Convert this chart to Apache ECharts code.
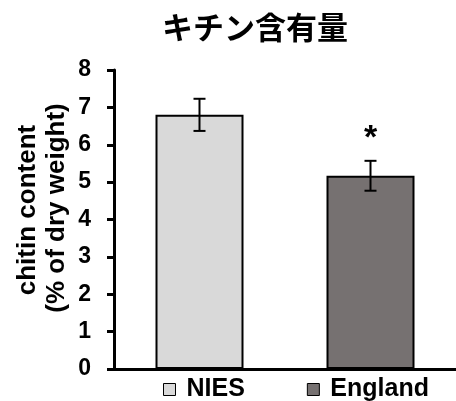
<!DOCTYPE html>
<html>
<head>
<meta charset="utf-8">
<script src="https://cdn.jsdelivr.net/npm/echarts@6/dist/echarts.min.js"></script>
<style>
  html, body { margin: 0; padding: 0; background: #fff; }
  #chart { width: 456px; height: 401px; }
</style>
</head>
<body>
<div id="chart"></div>
<script>
// Chitin content by strain, mean ± error
const categories = ['NIES', 'England'];
const means = [6.80, 5.17];
const errors = [0.43, 0.40];
const marks = ['', '*'];
const yTicks = [0, 1, 2, 3, 4, 5, 6, 7, 8];

const colors = ['#d9d9d9', '#767171'];
const FONT = 'Arial, "Liberation Sans", sans-serif';

const chart = echarts.init(document.getElementById('chart'));

// one bar series per category so each gets its own legend entry
const barSeries = categories.map((name, i) => ({
  name: name,
  type: 'bar',
  barWidth: 88,
  barGap: '-100%',
  data: categories.map((_, j) => (j === i ? means[i] : '-')),
  itemStyle: { color: colors[i], borderColor: '#000', borderWidth: 2 },
  emphasis: { disabled: true }
}));

const errorSeries = {
  type: 'custom',
  z: 10,
  data: categories.map((_, i) => [i, means[i] - errors[i], means[i] + errors[i]]),
  renderItem: function (params, api) {
    const x = api.value(0);
    const lo = api.coord([x, api.value(1)]);
    const hi = api.coord([x, api.value(2)]);
    const cap = 6;
    const style = { stroke: '#000', lineWidth: 2 };
    const children = [
      { type: 'line', shape: { x1: hi[0], y1: hi[1], x2: lo[0], y2: lo[1] }, style },
      { type: 'line', shape: { x1: hi[0] - cap, y1: hi[1], x2: hi[0] + cap, y2: hi[1] }, style },
      { type: 'line', shape: { x1: lo[0] - cap, y1: lo[1], x2: lo[0] + cap, y2: lo[1] }, style }
    ];
    const mark = marks[params.dataIndex];
    if (mark) {
      children.push({
        type: 'text',
        style: {
          text: mark, x: hi[0], y: hi[1] - 5,
          fill: '#000', font: 'bold 34px ' + FONT,
          align: 'center', verticalAlign: 'bottom'
        }
      });
    }
    return { type: 'group', children };
  }
};

chart.setOption({
  animation: false,
  backgroundColor: '#fff',
  title: {
    text: 'キチン含有量',
    left: 250,
    top: 7,
    textAlign: 'center',
    textStyle: {
      fontFamily: '"Noto Sans CJK JP", sans-serif',
      fontWeight: 'bold',
      fontSize: 31,
      color: '#000'
    }
  },
  legend: {
    data: categories,
    left: 163,
    top: 377,
    icon: 'rect',
    itemWidth: 12,
    itemHeight: 12,
    itemGap: 62,
    padding: 0,
    textStyle: {
      fontFamily: FONT, fontWeight: 'bold', fontSize: 25, color: '#000',
      padding: [0, 0, 0, 6]
    },
    itemStyle: { borderColor: '#000', borderWidth: 1 }
  },
  graphic: [
    {
      type: 'text', x: 28, y: 210, rotation: Math.PI / 2,
      style: {
        text: 'chitin content', fill: '#000',
        font: 'bold 26px ' + FONT, align: 'center', verticalAlign: 'middle'
      }
    },
    {
      type: 'text', x: 57, y: 208, rotation: Math.PI / 2,
      style: {
        text: '(% of dry weight)', fill: '#000',
        font: 'bold 26px ' + FONT, align: 'center', verticalAlign: 'middle'
      }
    }
  ],
  grid: { left: 114, top: 70, width: 348, bottom: 32 },
  xAxis: {
    type: 'category',
    data: categories,
    axisLine: { lineStyle: { color: '#000', width: 3 } },
    axisTick: { show: false },
    axisLabel: { show: false }
  },
  yAxis: {
    type: 'value',
    min: yTicks[0],
    max: yTicks[yTicks.length - 1],
    interval: 1,
    axisLine: { show: true, lineStyle: { color: '#000', width: 3 } },
    axisTick: { show: true, length: 7, lineStyle: { color: '#000', width: 3 } },
    splitLine: { show: false },
    axisLabel: {
      margin: 23,
      fontFamily: FONT, fontWeight: 'bold', fontSize: 23, color: '#000'
    }
  },
  series: [...barSeries, errorSeries]
});
</script>
</body>
</html>
